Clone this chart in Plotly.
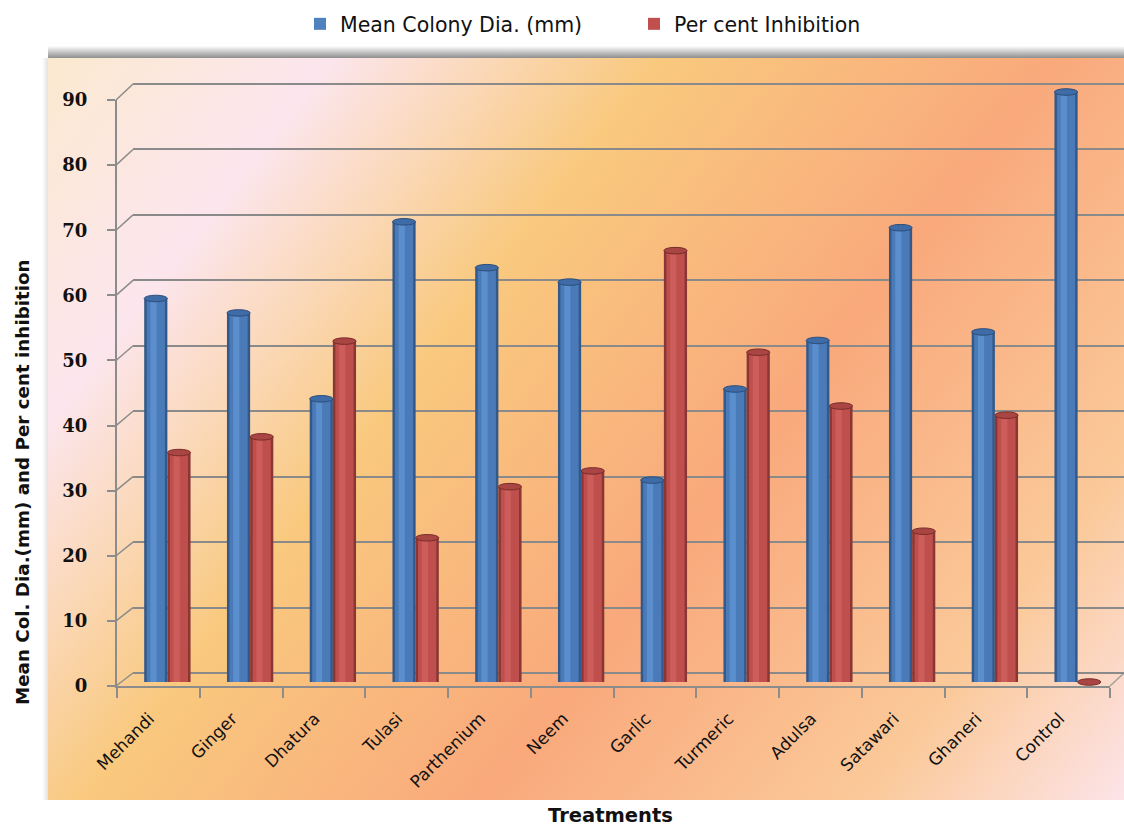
import base64
import plotly.graph_objects as go

# ---------------- data ----------------
categories = ["Mehandi", "Ginger", "Dhatura", "Tulasi", "Parthenium", "Neem",
              "Garlic", "Turmeric", "Adulsa", "Satawari", "Ghaneri", "Control"]
mean_colony_dia = [58.5, 56.3, 43.2, 70.2, 63.2, 61.0, 30.8, 44.7, 52.1, 69.3, 53.4, 90.0]
percent_inhibition = [35.0, 37.4, 52.0, 22.0, 29.8, 32.2, 65.8, 50.3, 42.1, 23.0, 40.7, 0.0]
y_ticks = [0, 10, 20, 30, 40, 50, 60, 70, 80, 90]
series_names = ["Mean Colony Dia. (mm)", "Per cent Inhibition"]

# ---------------- geometry helpers (pixel -> paper) ----------------
W, H = 1124, 826


def px(x):
    return x / W


def py(y):
    return 1 - y / H


def ydomain(p0, p90, r0, r1):
    ppu = (p0 - p90) / 90.0
    bottom = p0 + (0 - r0) * ppu
    top = p90 - (r1 - 90) * ppu
    return [py(bottom), py(top)]


BACK = dict(p0=673, p90=84, r=[-1, 91])     # back wall gridlines
FRONT = dict(p0=686, p90=100, r=[0, 90])    # front value axis
BARS = dict(p0=682, p90=92, r=[-2, 95])     # bars (mid depth)

n = len(categories)
bar_left, bar_right = 126, 1119
ppc = (bar_right - bar_left) / n
right_edge = min(bar_right, W)
bar_xrange = [-0.5, -0.5 + (right_edge - bar_left) / ppc]
bar_xdomain = [px(bar_left), min(1.0, px(right_edge))]

# ---------------- background (gradient panel) ----------------
svg = f'''<svg xmlns="http://www.w3.org/2000/svg" width="{W}" height="{H}" viewBox="0 0 {W} {H}" preserveAspectRatio="none">
<defs>
<linearGradient id="g" gradientUnits="userSpaceOnUse" x1="48" y1="58" x2="1080" y2="859">
<stop offset="0" stop-color="#FBE9CF"/>
<stop offset="0.17" stop-color="#FCE6EE"/>
<stop offset="0.37" stop-color="#F9C97E"/>
<stop offset="0.61" stop-color="#F9A97C"/>
<stop offset="0.84" stop-color="#FBC999"/>
<stop offset="1" stop-color="#FCE4E9"/>
</linearGradient>
<linearGradient id="s" x1="0" y1="0" x2="0" y2="1">
<stop offset="0" stop-color="#FFFFFF"/>
<stop offset="1" stop-color="#8E8E8E"/>
</linearGradient>
<linearGradient id="l" x1="0" y1="0" x2="1" y2="0">
<stop offset="0" stop-color="#FFFFFF"/>
<stop offset="1" stop-color="#E2E2E2"/>
</linearGradient>
</defs>
<rect width="{W}" height="{H}" fill="#FFFFFF"/>
<rect x="48" y="46" width="{W}" height="12" fill="url(#s)"/>
<rect x="42" y="58" width="6" height="742" fill="url(#l)"/>
<rect x="48" y="58" width="{W}" height="742" fill="url(#g)"/>
</svg>'''
bg_src = "data:image/svg+xml;base64," + base64.b64encode(svg.encode()).decode()

fig = go.Figure()

# dummy trace for back-wall subplot
fig.add_trace(go.Scatter(x=[None], y=[None], xaxis="x", yaxis="y",
                         showlegend=False, hoverinfo="skip"))

# legend entries (front subplot)
legend_colors = ["#4F81BD", "#C0504D"]
for name, col in zip(series_names, legend_colors):
    fig.add_trace(go.Scatter(x=categories, y=[None] * n,
                             xaxis="x2", yaxis="y2", mode="markers", name=name,
                             marker=dict(symbol="square", size=12, color=col),
                             hoverinfo="skip"))

# cylinder-like bars: base / body / highlight layers
BW = 0.28
styles = {
    0: dict(off=-BW, layers=[("#33598A", 0.0, BW), ("#4A7BB8", 0.03, BW - 0.06),
                              ("#5A8ECD", 0.075, 0.075)],
            cap="#3F6CA6", capline="#2C4E7D"),
    1: dict(off=0.0, layers=[("#8A3634", 0.0, BW), ("#BE4F4C", 0.03, BW - 0.06),
                             ("#CD5D5A", 0.075, 0.075)],
            cap="#A94542", capline="#7A2C2A"),
}
for si, values in enumerate([mean_colony_dia, percent_inhibition]):
    st = styles[si]
    for col, dx, w in st["layers"]:
        fig.add_trace(go.Bar(x=categories, y=values, xaxis="x3", yaxis="y3",
                             offset=st["off"] + dx, width=w,
                             marker=dict(color=col, line=dict(width=0)),
                             showlegend=False, hoverinfo="x+y", name=series_names[si]))

shapes = []
# caps of the cylinders
for si, values in enumerate([mean_colony_dia, percent_inhibition]):
    st = styles[si]
    for i, v in enumerate(values):
        shapes.append(dict(type="circle", xref="x3", yref="y3",
                           x0=i + st["off"], x1=i + st["off"] + BW,
                           y0=v - 0.5, y1=v + 0.5,
                           fillcolor=st["cap"], line=dict(color=st["capline"], width=1),
                           layer="above"))


def yfront(v):
    return py(FRONT["p0"] - v * (FRONT["p0"] - FRONT["p90"]) / 90)


def yback(v):
    return py(BACK["p0"] - v * (BACK["p0"] - BACK["p90"]) / 90)


# left wall diagonal connectors (front tick -> back gridline)
for v in y_ticks:
    shapes.append(dict(type="line", xref="paper", yref="paper",
                       x0=px(116), y0=yfront(v), x1=px(133), y1=yback(v),
                       line=dict(color="#8C8C8C", width=1.5), layer="below"))
# floor right edge
shapes.append(dict(type="line", xref="paper", yref="paper",
                   x0=px(1110), y0=yfront(0), x1=1.0,
                   y1=yfront(0) + (yback(0) - yfront(0)) * (W - 1110) / 14,
                   line=dict(color="#A0A0A0", width=1.5), layer="below"))

fig.update_layout(
    width=W, height=H,
    margin=dict(l=0, r=0, t=0, b=0, autoexpand=False),
    paper_bgcolor="#FFFFFF",
    plot_bgcolor="rgba(0,0,0,0)",
    barmode="overlay",
    images=[dict(source=bg_src, xref="paper", yref="paper", x=0, y=1,
                 sizex=1, sizey=1, xanchor="left", yanchor="top",
                 sizing="stretch", layer="below")],
    shapes=shapes,
    # back wall gridlines
    xaxis=dict(domain=[px(133), 1.0], range=[-0.5, 11.5], visible=False, anchor="y",
               automargin=False),
    yaxis=dict(domain=ydomain(BACK["p0"], BACK["p90"], *BACK["r"]), range=BACK["r"],
               anchor="x", tickvals=y_ticks, automargin=False,
               showgrid=True, gridcolor="#8A8A8A", gridwidth=2,
               showticklabels=False, ticks="", zeroline=False, showline=False),
    # front axes with labels
    xaxis2=dict(domain=[px(117), px(1110)], anchor="y2", type="category",
                categoryorder="array", categoryarray=categories,
                range=[-0.5, n - 0.5], automargin=False,
                tickson="boundaries", ticks="outside", ticklen=10, tickwidth=2,
                tickcolor="#8C8C8C", showline=True, linecolor="#8C8C8C", linewidth=2,
                showgrid=False, zeroline=False, tickangle=-45,
                ticklabelstandoff=14, ticklabelshift=-9,
                tickfont=dict(family="DejaVu Sans", size=17, color="#111111")),
    yaxis2=dict(domain=ydomain(FRONT["p0"], FRONT["p90"], *FRONT["r"]), range=FRONT["r"],
                anchor="x2", tickvals=y_ticks, automargin=False,
                ticks="outside", ticklen=8, tickwidth=2, tickcolor="#8C8C8C",
                showline=True, linecolor="#8C8C8C", linewidth=2,
                showgrid=False, zeroline=False, ticklabelstandoff=16,
                tickfont=dict(family="DejaVu Serif", size=18, color="#111111",
                              weight="bold")),
    # bars
    xaxis3=dict(domain=bar_xdomain, anchor="y3", type="category",
                categoryorder="array", categoryarray=categories,
                range=bar_xrange, visible=False, automargin=False),
    yaxis3=dict(domain=ydomain(BARS["p0"], BARS["p90"], *BARS["r"]),
                range=BARS["r"], anchor="x3", visible=False, automargin=False),
    legend=dict(orientation="h", x=px(300), y=py(24), xanchor="left", yanchor="middle",
                entrywidth=289, entrywidthmode="pixels", bgcolor="rgba(0,0,0,0)",
                font=dict(family="DejaVu Sans", size=20.5, color="#111111")),
    annotations=[
        dict(text="Treatments", xref="paper", yref="paper", x=px(610), y=py(815),
             showarrow=False, xanchor="center", yanchor="middle",
             font=dict(family="DejaVu Sans", size=19.5, color="#111111", weight="bold")),
        dict(text="Mean Col. Dia.(mm) and Per cent inhibition", xref="paper", yref="paper",
             x=px(22), y=py(482), showarrow=False, textangle=-90,
             xanchor="center", yanchor="middle",
             font=dict(family="DejaVu Sans", size=18.3, color="#111111", weight="bold")),
    ],
)

fig.write_html("out.html")
